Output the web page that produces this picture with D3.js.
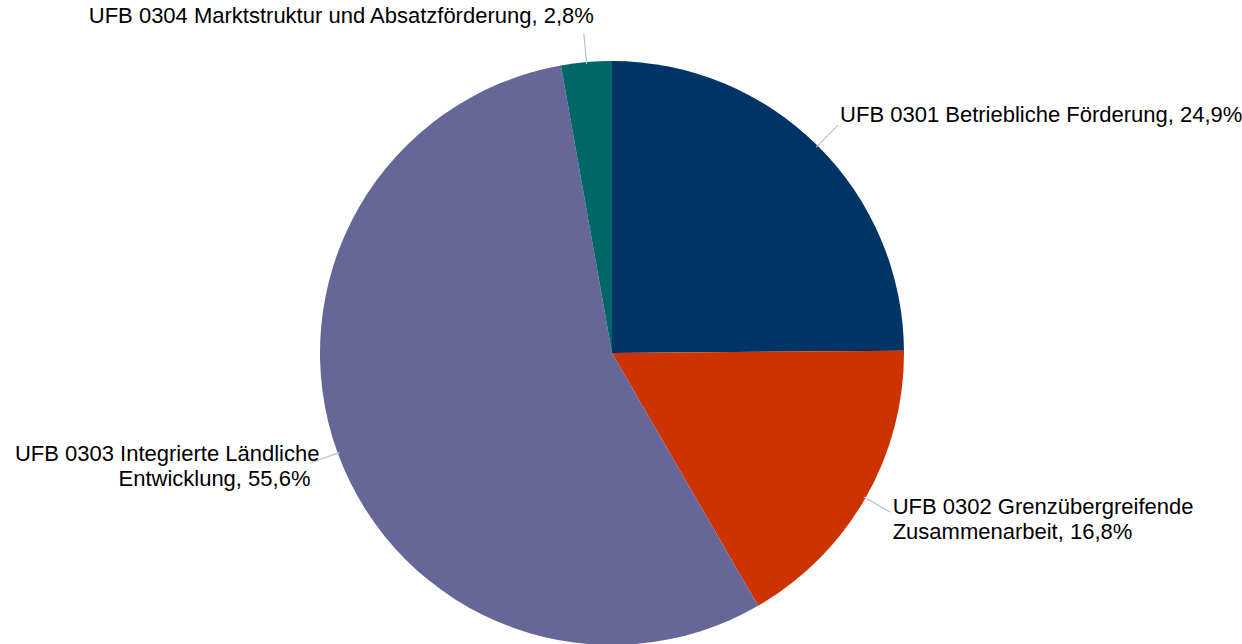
<!DOCTYPE html>
<html>
<head>
<meta charset="utf-8">
<script src="https://cdn.jsdelivr.net/npm/d3@7"></script>
<style>
  body { margin: 0; background: #fff; }
  svg { display: block; font-family: "Liberation Sans", Arial, sans-serif; }
</style>
</head>
<body>
<svg width="1242" height="644"></svg>
<script>
// chart data
var categories = [
    "UFB 0301 Betriebliche Förderung",
    "UFB 0302 Grenzübergreifende Zusammenarbeit",
    "UFB 0303 Integrierte Ländliche Entwicklung",
    "UFB 0304 Marktstruktur und Absatzförderung"
];
var shares = [24.9, 16.8, 55.6, 2.8];
var colors = ["#003366", "#cc3300", "#666699", "#006666"];

// label wrap widths
var wrapWidth = [Infinity, 320, 320, Infinity];

var svg = d3.select("svg"),
    width = +svg.attr("width"),
    height = +svg.attr("height"),
    radius = 292,
    g = svg.append("g").attr("transform", "translate(612,353)");

var data = categories.map(function(c, i){ return {name: c, value: shares[i], color: colors[i], wrap: wrapWidth[i]}; });

var pie = d3.pie()
    .sort(null)
    .value(function(d){ return d.value; });

var arc = d3.arc().innerRadius(0).outerRadius(radius);
var lineStart = d3.arc().innerRadius(radius - 2).outerRadius(radius - 2);
var lineEnd = d3.arc().innerRadius(radius + 29).outerRadius(radius + 29);

var arcs = pie(data);

g.selectAll("path.slice")
    .data(arcs)
    .enter().append("path")
      .attr("class", "slice")
      .attr("d", arc)
      .attr("fill", function(d){ return d.data.color; });

var fmt = function(v){ return v.toFixed(1).replace(".", ","); };

arcs.forEach(function(d){
    var p0 = lineStart.centroid(d), p1 = lineEnd.centroid(d);
    g.append("line")
        .attr("x1", p0[0]).attr("y1", p0[1])
        .attr("x2", p1[0]).attr("y2", p1[1])
        .attr("stroke", "#b8c2d4")
        .attr("stroke-width", 1.2);

    var mid = (d.startAngle + d.endAngle) / 2;
    var label = d.data.name + ", " + fmt(d.data.value) + "%";
    var top = Math.cos(mid) > 0.95;
    var right = Math.sin(mid) > 0;

    var t = g.append("text")
        .attr("font-size", 22)
        .attr("fill", "#000");

    // wrap words into lines
    var words = label.split(" "), lines = [], cur = "";
    var probe = t.append("tspan");
    words.forEach(function(w){
        var test = cur ? cur + " " + w : w;
        probe.text(test);
        if (probe.node().getComputedTextLength() > d.data.wrap && cur) {
            lines.push(cur); cur = w;
        } else cur = test;
    });
    lines.push(cur);
    probe.remove();

    var x, y, anchor, dx2 = 0;
    if (top) {
        x = p1[0] + 10; y = p1[1] - 10; anchor = "end";
    } else if (right) {
        x = p1[0] + 2; y = p1[1] + (lines.length > 1 ? 2 : -3); anchor = "start";
    } else {
        x = p1[0] + 9; y = p1[1] - 2; anchor = "end"; dx2 = -9;
    }
    t.attr("text-anchor", anchor);
    lines.forEach(function(l, i){
        t.append("tspan")
            .attr("x", x + (i > 0 ? dx2 : 0))
            .attr("y", y + i * 25)
            .text(l);
    });
});
</script>
</body>
</html>
